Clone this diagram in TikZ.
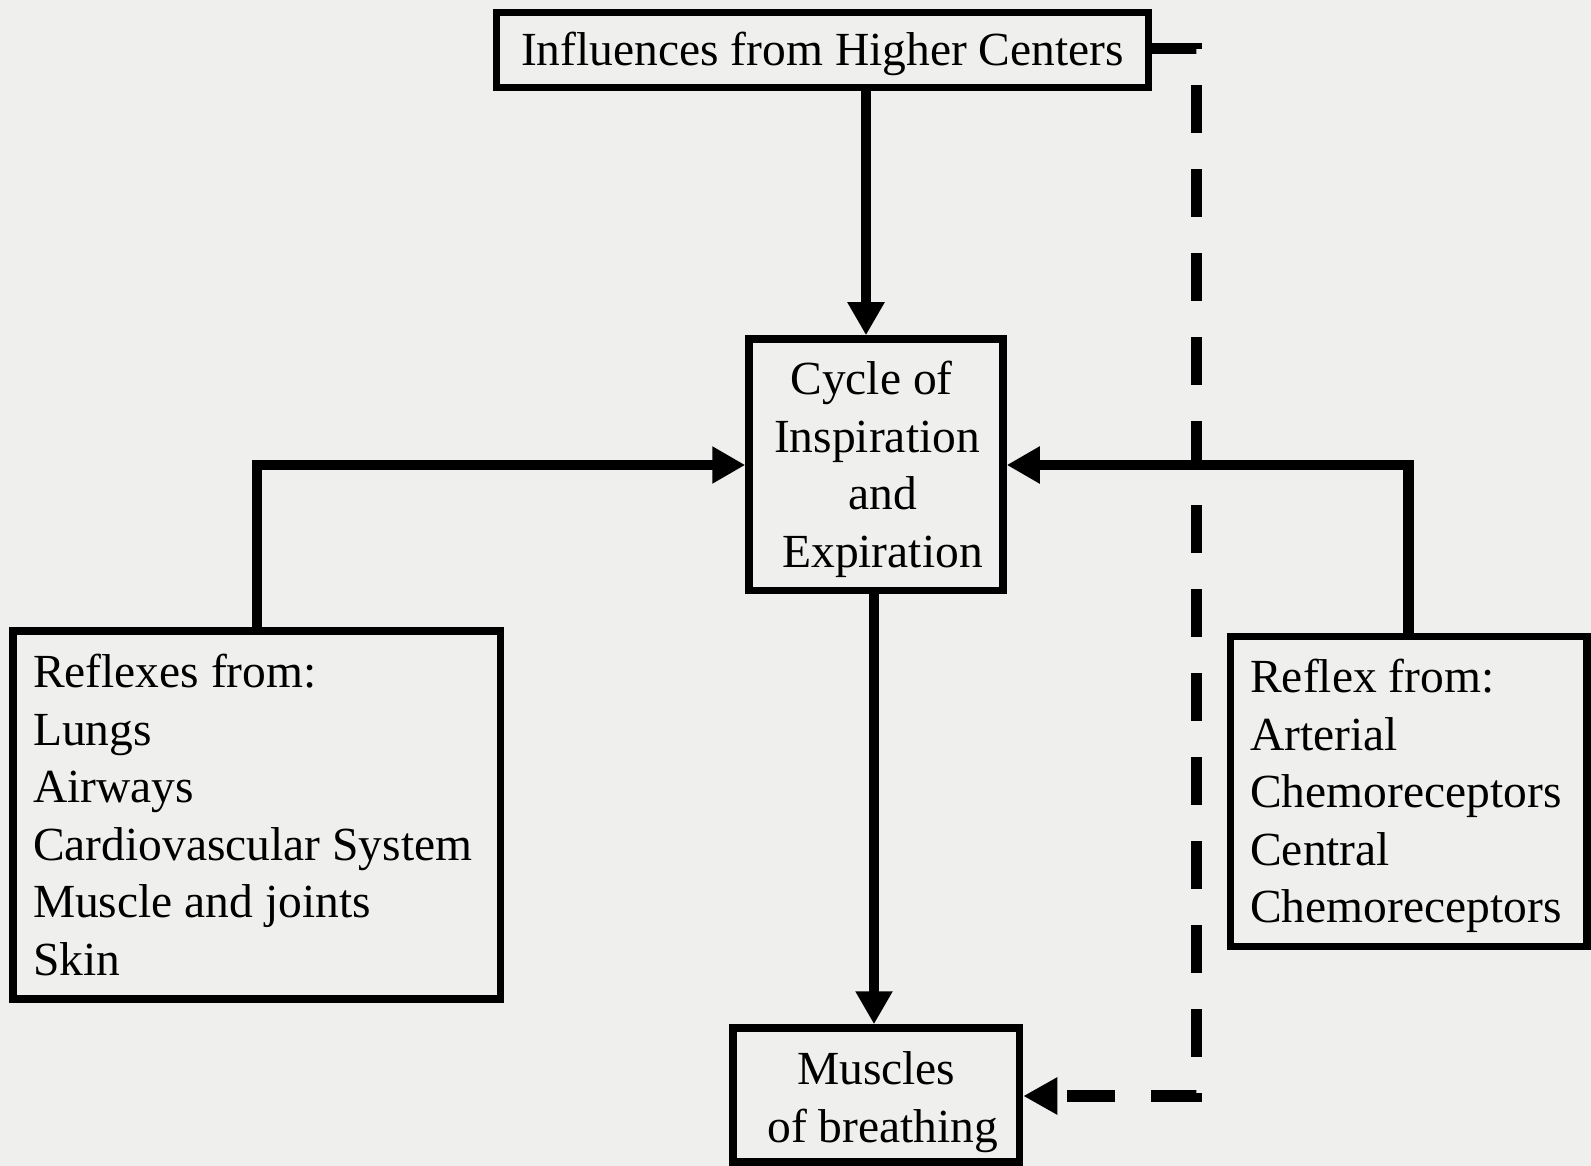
\documentclass[tikz,border=0pt]{standalone}
\usepackage{fontspec}
\setmainfont{Liberation Serif}
\usetikzlibrary{arrows.meta}
\definecolor{bg}{RGB}{239,239,238}
\begin{document}
\begin{tikzpicture}[x=1pt,y=-1pt,
  box/.style={draw, line width=7.5pt, inner sep=0pt,
    font=\fontsize{47.5pt}{57.5pt}\selectfont},
  conn/.style={line width=10.5pt, -{Triangle[width=35pt,length=33pt]}},
  dconn/.style={line width=11.5pt, dash pattern=on 48pt off 36pt, dash phase=3pt,
    -{Triangle[width=35pt,length=34pt]}}]
\useasboundingbox (0,0) rectangle (1591,1166);
\fill[bg] (0,0) rectangle (1591,1166);

\node[box, minimum width=652pt, minimum height=75pt] (top) at (822.5,50)
  {\rule{0pt}{42pt}Influences from Higher Centers};
\node[box, align=center, minimum width=254pt, minimum height=251.5pt] (cyc) at (876,464.75)
  {\rule{0pt}{42.5pt}\hspace*{-9pt}Cycle of\\\hspace*{2pt}Inspiration\\\hspace*{14pt}and\\\hspace*{13pt}Expiration};
\node[box, align=flush left, text width=447.5pt, inner xsep=20pt, minimum width=487.5pt,
  minimum height=368pt] (left) at (256.75,815)
  {Reflexes from:\\Lungs\\Airways\\Cardiovascular System\\Muscle and joints\\Skin};
\node[box, align=flush left, text width=317pt, inner xsep=19.75pt, minimum width=356.5pt,
  minimum height=310pt] (right) at (1408.75,791.5)
  {\rule{0pt}{43pt}Reflex from:\\Arterial\\Chemoreceptors\\Central\\Chemoreceptors};
\node[box, align=center, minimum width=286.5pt, minimum height=134pt] (musc) at (876.25,1095)
  {\rule{0pt}{47pt}Muscles\\\hspace*{13pt}of breathing};

\coordinate (xa) at (866,0);
\coordinate (xb) at (874,0);
\coordinate (xl) at (257,0);
\coordinate (xr) at (1408.5,0);
\coordinate (xd) at (1196.5,0);
\coordinate (ym) at (0,465);
\coordinate (yd) at (0,48.5);
\coordinate (yb) at (0,1096);

\draw[conn] (top.south -| xa) -- (cyc.north -| xa);
\draw[conn] (cyc.south -| xb) -- (musc.north -| xb);
\draw[conn] (left.north -| xl) |- (cyc.west |- ym);
\draw[conn] (right.north -| xr) |- (cyc.east |- ym);
\draw[dconn] (top.east |- yd) -| (xd |- yb) -- (musc.east |- yb);
\end{tikzpicture}
\end{document}
